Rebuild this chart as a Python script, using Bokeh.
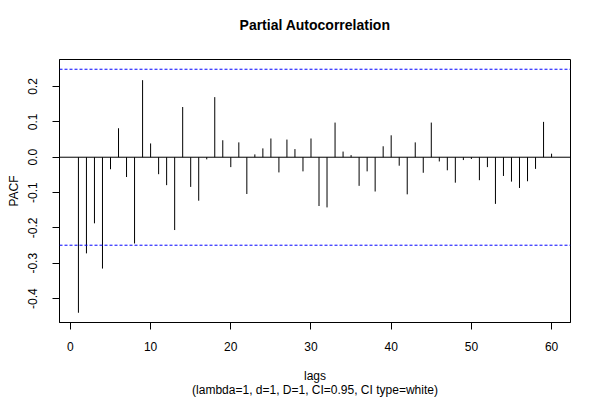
from bokeh.plotting import figure
from bokeh.models import FixedTicker, Span, Range1d, ColumnDataSource, Title
from bokeh.embed import file_html
from bokeh.resources import INLINE

lags = list(range(1, 61))
pacf = [-0.440, -0.272, -0.187, -0.315, -0.034, 0.082, -0.056, -0.244, 0.218, 0.039,
        -0.048, -0.079, -0.206, 0.142, -0.084, -0.123, -0.006, 0.170, 0.048, -0.028,
        0.042, -0.104, 0.008, 0.025, 0.053, -0.043, 0.050, 0.023, -0.040, 0.053,
        -0.138, -0.142, 0.098, 0.016, 0.006, -0.081, -0.040, -0.097, 0.031, 0.062,
        -0.024, -0.105, 0.042, -0.044, 0.098, -0.012, -0.037, -0.072, -0.008, -0.005,
        -0.065, -0.028, -0.132, -0.053, -0.069, -0.087, -0.068, -0.033, 0.100, 0.010]
ci = 0.2489
x_ticks = [0, 10, 20, 30, 40, 50, 60]
y_ticks = [-0.4, -0.3, -0.2, -0.1, 0.0, 0.1, 0.2]
y_tick_labels = ["-0.4", "-0.3", "-0.2", "-0.1", "0.0", "0.1", "0.2"]
title_text = "Partial Autocorrelation"
xlabel_text = "lags\n(lambda=1, d=1, D=1, CI=0.95, CI type=white)"
ylabel_text = "PACF"

FONT = "Liberation Sans"

xlo, xhi = min(lags), max(lags)
xe = 0.04 * (xhi - xlo)
ylo, yhi = min(min(pacf), -ci), max(max(pacf), ci)
ye = 0.04 * (yhi - ylo)

p = figure(width=592, height=400, output_backend="svg", toolbar_location=None,
           x_range=Range1d(xlo - xe, xhi + xe), y_range=Range1d(ylo - ye, yhi + ye),
           min_border_left=59, min_border_right=22, min_border_top=59, min_border_bottom=73,
           title=None)
p.background_fill_color = "white"
p.border_fill_color = "white"
p.outline_line_color = "black"
p.outline_line_width = 1
p.grid.visible = False

# spacer (closest to frame), then the real title further out
p.add_layout(Title(text=" ", text_font_size="2px", standoff=18), "above")
p.add_layout(Title(text=title_text, align="center", text_font=FONT, text_font_size="14px",
                   text_font_style="bold", text_color="black", standoff=10), "above")

src = ColumnDataSource(dict(x=lags, y=pacf, z=[0] * len(lags)))
p.segment(x0="x", y0="z", x1="x", y1="y", source=src, line_color="black", line_width=1)

p.add_layout(Span(location=0, dimension="width", line_color="black", line_width=1))
for c in (ci, -ci):
    p.add_layout(Span(location=c, dimension="width", line_color="blue", line_width=1,
                      line_dash="3 2"))

for ax in (p.xaxis[0], p.yaxis[0]):
    ax.axis_line_color = "black"
    ax.major_tick_line_color = "black"
    ax.major_tick_out = 7
    ax.major_tick_in = 0
    ax.minor_tick_line_color = None
    ax.major_label_text_font = FONT
    ax.major_label_text_font_size = "12px"
    ax.major_label_text_color = "black"
    ax.axis_label_text_font = FONT
    ax.axis_label_text_font_size = "12px"
    ax.axis_label_text_font_style = "normal"
    ax.axis_label_text_color = "black"

p.xaxis.ticker = FixedTicker(ticks=x_ticks)
p.xaxis.major_label_standoff = 12
p.xaxis.axis_label = xlabel_text
p.xaxis.axis_label_standoff = 15
p.xaxis.axis_label_text_line_height = 1.05

p.yaxis.ticker = FixedTicker(ticks=y_ticks)
p.yaxis.major_label_overrides = {t: s for t, s in zip(y_ticks, y_tick_labels)}
p.yaxis.major_label_orientation = "vertical"
p.yaxis.major_label_standoff = 15
p.yaxis.axis_label = ylabel_text
p.yaxis.axis_label_standoff = 5

open("out.html", "w").write(file_html(p, INLINE))
